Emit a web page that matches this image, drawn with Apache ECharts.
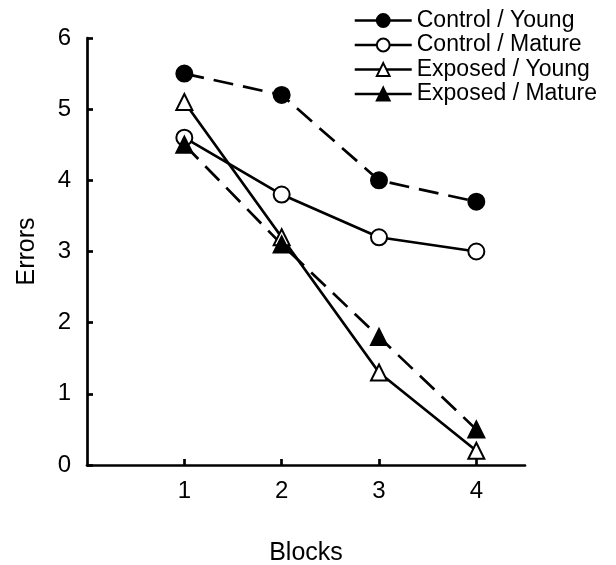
<!DOCTYPE html>
<html><head><meta charset="utf-8">
<script src="https://cdn.jsdelivr.net/npm/echarts@6/dist/echarts.min.js"></script>
<style>html,body{margin:0;padding:0;background:#fff}#c{width:616px;height:565px}</style>
</head><body><div id="c"></div>
<script>
const blocks = [1, 2, 3, 4];
const controlYoung = [5.5, 5.2, 4.0, 3.7];
const controlMature = [4.6, 3.8, 3.2, 3.0];
const exposedYoung = [5.1, 3.2, 1.3, 0.2];
const exposedMature = [4.5, 3.1, 1.8, 0.5];
const seriesNames = ['Control / Young', 'Control / Mature', 'Exposed / Young', 'Exposed / Mature'];
const yTicks = [0, 1, 2, 3, 4, 5, 6];

const FONT = '"Liberation Sans", Arial, sans-serif';
function pts(vals) { return blocks.map((b, i) => [b, vals[i]]); }
function mk(name, vals, symbol, filled, dashed) {
  return {
    name, type: 'line', data: pts(vals), symbol, symbolSize: 16,
    showSymbol: true,
    lineStyle: { color: '#000', width: 2.7, type: dashed ? [20, 10] : 'solid' },
    itemStyle: { color: filled ? '#000' : '#fff', borderColor: '#000', borderWidth: 2 },
    emphasis: { disabled: true }, animation: false
  };
}
const chart = echarts.init(document.getElementById('c'));
chart.setOption({
  animation: false,
  textStyle: { fontFamily: FONT, color: '#000' },
  grid: { left: 87, right: 91, top: 38, bottom: 100, outerBoundsMode: 'none', containLabel: false },
  legend: {
    data: seriesNames, orient: 'vertical', right: 14, top: 4,
    itemWidth: 57, itemHeight: 16, itemGap: 1.5,
    textStyle: { fontFamily: FONT, fontSize: 23, color: '#000', lineHeight: 22 },
    lineStyle: { type: 'solid', width: 2.7, color: '#000' }
  },
  xAxis: {
    type: 'value', min: 0, max: 4.5, interval: 1,
    name: 'Blocks', nameLocation: 'middle', nameGap: 76,
    nameTextStyle: { fontFamily: FONT, fontSize: 25, color: '#000' },
    axisLine: { show: true, lineStyle: { color: '#000', width: 2.7 } },
    axisTick: { show: true, inside: true, length: 6, customValues: blocks, lineStyle: { color: '#000', width: 2.7 } },
    axisLabel: { customValues: blocks, fontSize: 24, color: '#000', margin: 14, fontFamily: FONT },
    splitLine: { show: false }
  },
  yAxis: {
    type: 'value', min: 0, max: 6, interval: 1,
    name: 'Errors', nameLocation: 'middle', nameGap: 47, nameRotate: 90,
    nameTextStyle: { fontFamily: FONT, fontSize: 25, color: '#000' },
    axisLine: { show: true, lineStyle: { color: '#000', width: 2.7 } },
    axisTick: { show: true, inside: true, length: 6, customValues: yTicks, lineStyle: { color: '#000', width: 2.7 } },
    axisLabel: { customValues: yTicks, fontSize: 24, color: '#000', margin: 16, fontFamily: FONT },
    splitLine: { show: false }
  },
  series: [
    mk(seriesNames[0], controlYoung, 'circle', true, true),
    mk(seriesNames[1], controlMature, 'circle', false, false),
    mk(seriesNames[2], exposedYoung, 'triangle', false, false),
    mk(seriesNames[3], exposedMature, 'triangle', true, true)
  ]
});
</script></body></html>
